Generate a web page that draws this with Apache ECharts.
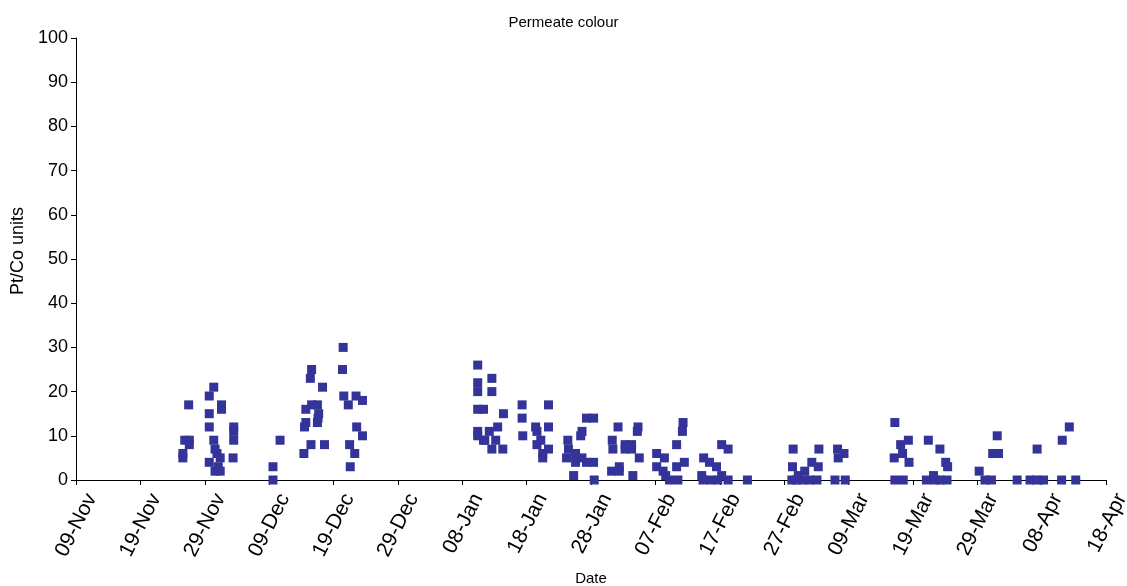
<!DOCTYPE html>
<html>
<head>
<meta charset="utf-8">
<script src="https://cdn.jsdelivr.net/npm/echarts@6/dist/echarts.min.js"></script>
<style>html,body{margin:0;padding:0;background:#fff}#c{width:1127px;height:586px}</style>
</head>
<body>
<div id="c"></div>
<script>
// x tick labels (every 10 days from 09-Nov)
const xTickLabels = ['09-Nov','19-Nov','29-Nov','09-Dec','19-Dec','29-Dec','08-Jan','18-Jan','28-Jan','07-Feb','17-Feb','27-Feb','09-Mar','19-Mar','29-Mar','08-Apr','18-Apr'];
// sample time: days after 09-Nov
const sampleDay = [
16.6,16.6,16.9,17.5,17.6,17.6,20.7,20.7,20.7,20.7,21.4,21.4,21.6,21.6,21.9,22.1,22.4,22.4,22.6,22.6,24.5,24.5,24.5,24.4,
30.6,30.6,31.7,
35.4,35.5,35.7,35.7,36.4,36.5,36.6,36.6,37.5,37.5,37.7,37.6,38.3,38.6,41.4,41.5,41.6,42.3,42.5,42.6,43.3,43.5,43.6,44.5,44.5,
62.4,62.4,62.4,62.4,62.4,62.4,63.3,63.3,63.5,64.2,64.6,64.6,64.6,65.2,65.5,66.3,66.4,
69.3,69.3,69.4,71.4,71.6,71.6,72.2,72.5,72.5,73.4,73.4,73.4,
76.4,76.5,76.2,77.6,77.6,77.3,78.6,78.6,78.4,79.3,79.3,80.4,80.4,80.5,
83.3,83.4,83.2,84.2,84.4,84.4,85.3,85.3,86.3,86.3,86.5,87.3,87.2,87.5,
90.2,90.2,91.4,91.2,91.6,92.2,93.3,93.3,93.5,94.3,94.2,94.5,
97.5,97.2,97.4,98.4,98.6,99.5,99.7,100.3,100.3,101.3,101.3,104.3,
111.4,111.3,111.2,111.9,112.2,112.9,113.2,114.3,114.0,115.4,115.3,115.1,118.3,118.4,119.3,117.9,119.5,
127.2,127.2,127.1,128.1,128.4,128.5,129.3,129.4,132.4,132.1,133.2,133.4,134.2,134.2,135.1,135.4,135.3,
140.3,141.2,142.2,142.4,143.3,143.1,146.2,148.2,149.2,149.3,150.3,153.1,153.2,154.3,155.3
];
// permeate colour (Pt/Co units)
const colourValue = [
6,5,9,17,9,8,19,15,12,4,21,9,7,2,6,3,5,2,17,16,12,11,9,5,
3,0,9,
6,12,16,13,23,8,25,17,17,13,15,14,21,8,25,30,19,17,8,3,6,19,12,18,10,
26,22,20,16,11,10,16,9,9,11,23,20,7,9,12,7,15,
17,14,10,12,11,8,9,6,5,17,12,7,
9,7,5,6,4,1,11,5,10,14,4,14,4,0,
9,7,2,12,3,2,8,7,8,7,1,12,11,5,
6,3,5,2,1,0,8,3,0,13,11,4,
5,1,0,4,0,3,0,8,1,7,0,0,
7,3,0,0,1,0,2,4,0,7,3,0,7,5,6,0,0,
13,0,5,8,6,0,9,4,9,0,1,0,7,0,4,3,0,
2,0,0,6,6,10,0,0,0,7,0,0,9,12,0
];
const yTicks = [0,10,20,30,40,50,60,70,80,90,100];

const points = sampleDay.map((d, i) => [d, colourValue[i]]);
const font = 'Liberation Sans, Arial, sans-serif';
const chart = echarts.init(document.getElementById('c'), null, {renderer: 'canvas'});
chart.setOption({
  animation: false,
  backgroundColor: '#fff',
  title: {
    text: 'Permeate colour', left: 'center', top: 10,
    textStyle: {fontFamily: font, fontSize: 15, fontWeight: 'normal', color: '#000'}
  },
  grid: {left: 76, right: 21, top: 38, bottom: 106, containLabel: false, outerBoundsMode: 'none'},
  xAxis: {
    type: 'value', min: 0, max: 160, interval: 10,
    name: 'Date', nameLocation: 'middle', nameGap: 91,
    nameTextStyle: {fontFamily: font, fontSize: 15, color: '#000'},
    axisLine: {show: true, lineStyle: {color: '#000', width: 1}},
    axisTick: {show: true, length: 5, lineStyle: {color: '#000'}},
    splitLine: {show: false},
    axisLabel: {
      rotate: 63, fontFamily: font, fontSize: 21, color: '#000', margin: 7,
      verticalAlign: 'top', padding: [7, 0, 0, 0],
      formatter: v => xTickLabels[Math.round(v / 10)] || ''
    }
  },
  yAxis: {
    type: 'value', min: yTicks[0], max: yTicks[yTicks.length - 1], interval: 10,
    name: 'Pt/Co units', nameLocation: 'middle', nameGap: 41, nameRotate: 90,
    nameTextStyle: {fontFamily: font, fontSize: 18, color: '#000', padding: [0, 0, 0, 16]},
    axisLine: {show: true, lineStyle: {color: '#000', width: 1}},
    axisTick: {show: true, length: 5, lineStyle: {color: '#000'}},
    splitLine: {show: false},
    axisLabel: {fontFamily: font, fontSize: 18, color: '#000', margin: 8}
  },
  series: [{
    type: 'scatter',
    symbol: 'rect',
    symbolSize: 9,
    itemStyle: {color: '#333399', opacity: 1},
    data: points
  }]
});
</script>
</body>
</html>
